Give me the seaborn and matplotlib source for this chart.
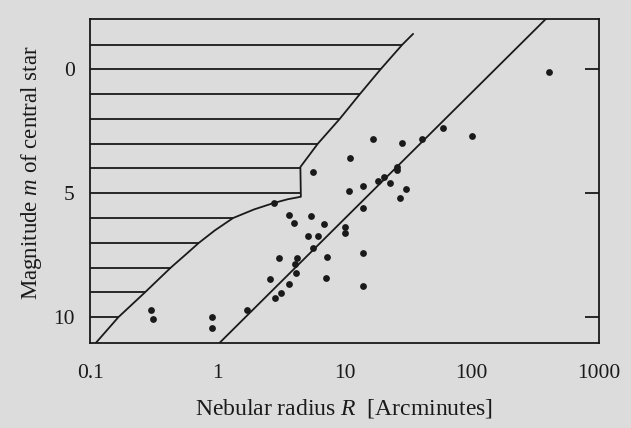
import numpy as np
import pandas as pd
import seaborn as sns
import matplotlib.pyplot as plt

# nebular radius R [arcmin] and magnitude m of the central star
radius = [405, 100, 59.4, 40.3, 28.4, 16.8, 11.0, 5.62, 25.9, 25.9, 20.4, 18.2,
          22.8, 30.7, 27.2, 14.0, 10.9, 14.1, 2.81, 3.68, 4.03, 5.44, 6.92, 5.12,
          6.21, 10.1, 10.1, 5.63, 3.08, 4.23, 4.08, 7.35, 14.1, 4.15, 2.61, 3.66,
          3.17, 2.84, 7.15, 14.1, 1.70, 0.30, 0.31, 0.91, 0.91]
magnitude = [0.10, 2.69, 2.38, 2.82, 2.97, 2.81, 3.59, 4.13, 3.93, 4.06, 4.33, 4.49,
             4.60, 4.83, 5.20, 4.71, 4.90, 5.59, 5.40, 5.88, 6.19, 5.93, 6.22, 6.71,
             6.71, 6.36, 6.61, 7.22, 7.61, 7.61, 7.85, 7.59, 7.40, 8.23, 8.44, 8.65,
             9.01, 9.24, 8.41, 8.74, 9.69, 9.71, 10.06, 9.98, 10.44]

# straight line through the data
fit_R = [1.04, 382]
fit_m = [11.04, -2.03]

# outline of the hatched region
edge_R = [34.6, 28.5, 19.2, 13.2, 9.17, 6.17, 4.5, 4.54, 3.59, 2.79, 1.95, 1.33,
          0.956, 0.717, 0.557, 0.431, 0.270, 0.167, 0.111]
edge_m = [-1.43, -1, 0, 1, 2, 3, 3.94, 5.14, 5.24, 5.39, 5.65, 6.0,
          6.5, 7, 7.5, 8, 9, 10, 11.04]

hatch_levels = list(range(-1, 11))

x_ticks = [0.1, 1, 10, 100, 1000]
x_labels = ['0.1', '1', '10', '100', '1000']
y_ticks = [0, 5, 10]

bg = '#dcdcdc'
ink = '#1a1a1a'
sns.set_theme(style='white', rc={'figure.facecolor': bg, 'axes.facecolor': bg,
                                 'axes.edgecolor': ink, 'axes.linewidth': 1.3})
plt.rcParams['font.family'] = ['Liberation Serif', 'DejaVu Serif']
plt.rcParams['mathtext.fontset'] = 'custom'
plt.rcParams['mathtext.rm'] = 'Liberation Serif'
plt.rcParams['mathtext.it'] = 'Liberation Serif:italic'

fig = plt.figure(figsize=(6.31, 4.28), dpi=100)
ax = fig.add_axes([90 / 631, 1 - 343 / 428, 509 / 631, 324 / 428])

df = pd.DataFrame({'R': radius, 'm': magnitude})
sns.scatterplot(data=df, x='R', y='m', ax=ax, color=ink, s=24, linewidth=0, zorder=3)

sns.lineplot(x=fit_R, y=fit_m, ax=ax, color=ink, lw=1.3, sort=False, estimator=None)
sns.lineplot(x=edge_R, y=edge_m, ax=ax, color=ink, lw=1.3, sort=False, estimator=None)

# horizontal hatching up to the outline
ends = 10 ** np.interp(hatch_levels, edge_m, np.log10(edge_R))
ax.hlines(hatch_levels, 0.1, ends, color=ink, lw=1.3)

ax.set_xscale('log')
ax.set_xlim(0.1, 1000)
ax.set_ylim(11.04, -2.03)
ax.set_xticks(x_ticks)
ax.set_xticklabels(x_labels)
ax.minorticks_off()
ax.set_yticks(y_ticks)

ax.tick_params(axis='x', direction='in', length=10, width=1.3, pad=15,
               labelsize=15.5, colors=ink)
ax.tick_params(axis='y', direction='in', length=10, width=1.3, pad=11,
               left=False, right=True, labelleft=True, labelsize=15.5, colors=ink)

ax.set_xlabel('Nebular radius $R$  [Arcminutes]', fontsize=17, color=ink, labelpad=10)
ax.set_ylabel('Magnitude $m$ of central star', fontsize=16.5, color=ink)
ax.yaxis.set_label_coords(-0.09, 0.525)

fig.savefig('out.png', dpi=100, facecolor=bg)
